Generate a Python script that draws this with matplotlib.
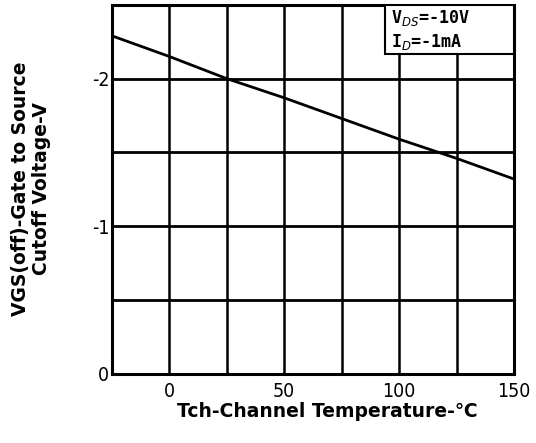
import matplotlib
matplotlib.use("Agg")
import matplotlib.pyplot as plt
import numpy as np

plt.rcParams['axes.unicode_minus'] = False

temp = [-25, 0, 25, 50, 75, 100, 125, 150]
vgs_off = [-2.29, -2.15, -2.0, -1.87, -1.73, -1.59, -1.46, -1.32]

x_ticks = [0, 50, 100, 150]
y_ticks = [0, -1, -2]
cond_lines = ["V$_{DS}$=-10V", "I$_D$=-1mA"]

fig = plt.figure(figsize=(5.36, 4.43), dpi=100)
ax = fig.add_axes([0.209, 0.156, 0.75, 0.833])

ax.set_xlim(-25, 150)
ax.set_ylim(0, -2.5)

for gx in np.arange(0, 150, 25):
    ax.axvline(gx, color='black', lw=1.8, zorder=1)
for gy in np.arange(-0.5, -2.5, -0.5):
    ax.axhline(gy, color='black', lw=2.0, zorder=1)

ax.plot(temp, vgs_off, color='black', lw=2.0, zorder=3)

for s in ax.spines.values():
    s.set_linewidth(2.2)

ax.set_xticks(x_ticks)
ax.set_yticks(y_ticks)
ax.set_yticklabels([str(v) for v in y_ticks])
ax.tick_params(length=0, labelsize=14)
ax.tick_params(axis='x', pad=6)
ax.tick_params(axis='y', pad=2)
for lab in ax.get_xticklabels() + ax.get_yticklabels():
    lab.set_fontfamily('DejaVu Sans')
    lab.set_fontstretch('condensed')

# condition box in the top right corner
ax.add_patch(plt.Rectangle((94, -2.5), 56, 0.33, facecolor='white',
                           edgecolor='black', lw=1.5, zorder=4))
ax.text(96.5, -2.41, cond_lines[0], fontsize=12, fontweight='bold',
        family='DejaVu Sans Mono', va='center', ha='left', zorder=5)
ax.text(96.5, -2.25, cond_lines[1], fontsize=12, fontweight='bold',
        family='DejaVu Sans Mono', va='center', ha='left', zorder=5)

fig.text(0.058, 0.575, "VGS(off)-Gate to Source\nCutoff Voltage-V",
         rotation=90, ha='center', va='center', fontsize=13.5,
         fontweight='bold', family='DejaVu Sans', linespacing=1.1)
fig.text(0.61, 0.072, "Tch-Channel Temperature-\u2103", ha='center',
         va='center', fontsize=13.5, fontweight='bold',
         family=['DejaVu Sans', 'Noto Sans CJK JP'])

plt.savefig("out.png", dpi=100)
